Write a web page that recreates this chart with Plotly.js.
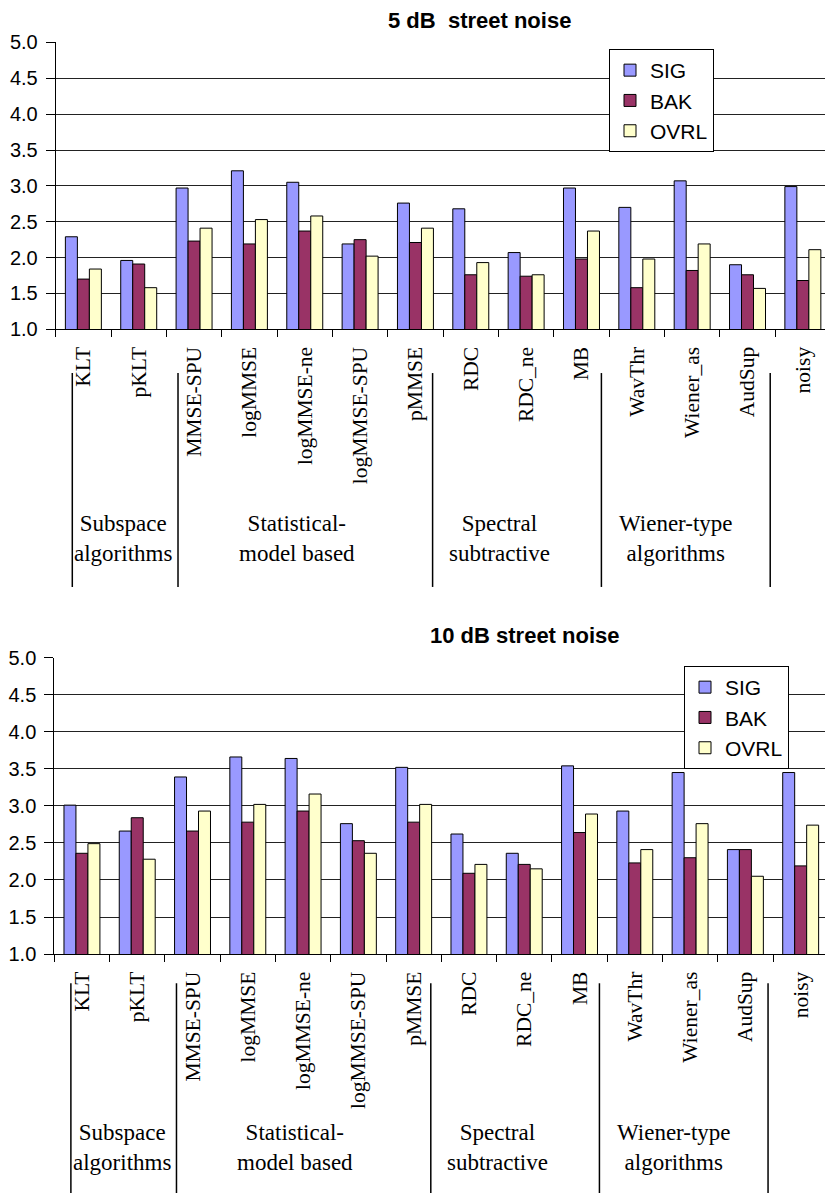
<!DOCTYPE html>
<html>
<head>
<meta charset="utf-8">
<script src="https://cdn.plot.ly/plotly-3.0.1.min.js"></script>
<style>
  html, body { margin: 0; padding: 0; background: #ffffff; }
  #chart { width: 825px; height: 1193px; }
</style>
</head>
<body>
<div id="chart"></div>
<script>
// Speech enhancement ratings (SIG / BAK / OVRL) per algorithm, street noise
const methods = ['KLT', 'pKLT', 'MMSE-SPU', 'logMMSE', 'logMMSE-ne', 'logMMSE-SPU', 'pMMSE',
                 'RDC', 'RDC_ne', 'MB', 'WavThr', 'Wiener_as', 'AudSup', 'noisy'];

// 5 dB street noise
const sig5  = [2.29, 1.96, 2.97, 3.21, 3.05, 2.19, 2.76, 2.68, 2.07, 2.97, 2.70, 3.07, 1.90, 2.99];
const bak5  = [1.70, 1.91, 2.23, 2.19, 2.37, 2.25, 2.21, 1.76, 1.74, 1.98, 1.58, 1.82, 1.76, 1.68];
const ovrl5 = [1.84, 1.58, 2.41, 2.53, 2.58, 2.02, 2.41, 1.93, 1.76, 2.37, 1.98, 2.19, 1.57, 2.11];

// 10 dB street noise
const sig10  = [3.01, 2.66, 3.39, 3.66, 3.64, 2.76, 3.52, 2.62, 2.36, 3.54, 2.93, 3.45, 2.41, 3.45];
const bak10  = [2.36, 2.84, 2.66, 2.78, 2.93, 2.53, 2.78, 2.09, 2.21, 2.64, 2.23, 2.30, 2.41, 2.19];
const ovrl10 = [2.49, 2.28, 2.93, 3.02, 3.16, 2.36, 3.02, 2.21, 2.15, 2.89, 2.41, 2.76, 2.05, 2.74];

const seriesNames = ['SIG', 'BAK', 'OVRL'];
const titles = ['5 dB&nbsp; street noise', '10 dB street noise'];

// Algorithm families shown under the category labels
const groupNames = ['Subspace<br>algorithms', 'Statistical-<br>model based',
                    'Spectral<br>subtractive', 'Wiener-type<br>algorithms'];
const groupPos = [0.72, 3.86, 7.51, 10.71];
const separatorPos = [-0.2, 1.71, 6.31, 9.36, 12.41];

const colors = ['#9999ff', '#993366', '#ffffcc'];
const SANS = 'Liberation Sans, Arial, sans-serif';
const SERIF = 'Liberation Serif, Times New Roman, serif';

function barTraces(values, xa, ya, legendId) {
  return values.map((v, i) => ({
    type: 'bar',
    name: seriesNames[i],
    x: methods,
    y: v,
    xaxis: xa,
    yaxis: ya,
    legend: legendId,
    showlegend: true,
    marker: { color: colors[i], line: { color: '#000000', width: 1 } },
    hoverinfo: 'x+y+name'
  }));
}

const data = [
  ...barTraces([sig5, bak5, ovrl5], 'x', 'y', 'legend'),
  ...barTraces([sig10, bak10, ovrl10], 'x2', 'y2', 'legend2')
];

function xAxis(domainStart, rangeEnd, anchor) {
  return {
    domain: [domainStart, 1],
    anchor: anchor,
    type: 'category',
    range: [-0.5, rangeEnd],
    showline: true,
    linecolor: '#000000',
    linewidth: 1,
    ticks: 'outside',
    tickson: 'boundaries',
    ticklen: 7,
    tickcolor: '#000000',
    tickwidth: 1,
    tickangle: -90,
    ticklabelstandoff: 8,
    tickfont: { family: SERIF, size: 21.5, color: '#000000' },
    showgrid: false,
    zeroline: false,
    fixedrange: true
  };
}

function yAxis(domain, anchor) {
  return {
    domain: domain,
    anchor: anchor,
    range: [1, 5],
    tick0: 1,
    dtick: 0.5,
    tickformat: '.1f',
    showline: true,
    linecolor: '#000000',
    linewidth: 1,
    ticks: 'outside',
    ticklen: 9,
    tickcolor: '#000000',
    tickwidth: 1,
    ticklabelstandoff: 4,
    tickfont: { family: SANS, size: 20, color: '#000000' },
    showgrid: true,
    gridcolor: '#222222',
    gridwidth: 1,
    zeroline: false,
    fixedrange: true
  };
}

// Vertical rules dividing the families, and family captions, for each panel
const panels = [
  { xref: 'x',  sepTop: 0.6873, sepBottom: 0.5080, captionY: 0.549 },
  { xref: 'x2', sepTop: 0.1758, sepBottom: 0.0,    captionY: 0.0379 }
];

const shapes = [];
const annotations = [];
panels.forEach(p => {
  separatorPos.forEach(xv => {
    shapes.push({
      type: 'line', xref: p.xref, yref: 'paper',
      x0: xv, x1: xv, y0: p.sepBottom, y1: p.sepTop,
      line: { color: '#000000', width: 1.5 }
    });
  });
  groupNames.forEach((g, i) => {
    annotations.push({
      xref: p.xref, yref: 'paper', x: groupPos[i], y: p.captionY,
      text: g, showarrow: false, align: 'center',
      xanchor: 'center', yanchor: 'middle',
      font: { family: SERIF, size: 23, color: '#000000' }
    });
  });
});

// Panel titles
annotations.push({
  xref: 'paper', yref: 'paper', x: 479.5 / 825, y: 0.9832,
  text: '<b>' + titles[0] + '</b>', showarrow: false,
  xanchor: 'center', yanchor: 'middle',
  font: { family: SANS, size: 22, color: '#000000' }
});
annotations.push({
  xref: 'paper', yref: 'paper', x: 525 / 825, y: 0.4677,
  text: '<b>' + titles[1] + '</b>', showarrow: false,
  xanchor: 'center', yanchor: 'middle',
  font: { family: SANS, size: 22, color: '#000000' }
});

const legendStyle = {
  bgcolor: '#ffffff',
  bordercolor: '#000000',
  borderwidth: 1,
  font: { family: SANS, size: 21, color: '#000000' },
  xanchor: 'left',
  yanchor: 'top',
  orientation: 'v',
  traceorder: 'normal'
};

const layout = {
  width: 825,
  height: 1193,
  margin: { l: 0, r: 0, t: 0, b: 0 },
  paper_bgcolor: '#ffffff',
  plot_bgcolor: '#ffffff',
  barmode: 'group',
  bargap: 0.35,
  bargroupgap: 0,
  xaxis: xAxis(55.7 / 825, 13.40, 'y'),
  yaxis: yAxis([0.7240, 0.9644], 'x'),
  xaxis2: xAxis(54.3 / 825, 13.44, 'y2'),
  yaxis2: yAxis([0.2003, 0.4487], 'x2'),
  legend: Object.assign({}, legendStyle, { x: 609 / 825, y: 1 - 49 / 1193 }),
  legend2: Object.assign({}, legendStyle, { x: 684 / 825, y: 1 - 666 / 1193 }),
  shapes: shapes,
  annotations: annotations
};

Plotly.newPlot('chart', data, layout, { displayModeBar: false, staticPlot: true });
</script>
</body>
</html>
